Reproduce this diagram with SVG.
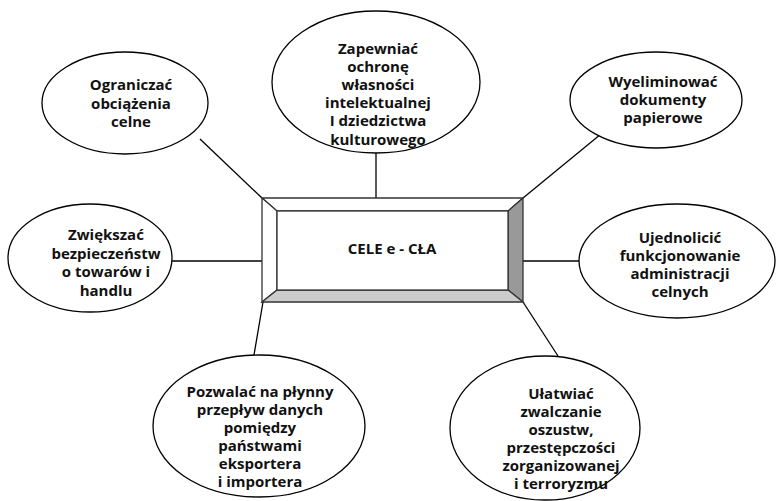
<svg xmlns="http://www.w3.org/2000/svg" width="777" height="501" viewBox="0 0 777 501">
<style>
.el{fill:#fff;stroke:#000;stroke-width:1.3}
.ln{stroke:#000;stroke-width:1.3;fill:none}
.t{font-family:"Open Sans",Lato,sans-serif;font-weight:700;font-size:15px;text-anchor:middle;fill:#111}
.bv{stroke:#333;stroke-width:1.3;stroke-linejoin:miter}
</style>
<rect width="777" height="501" fill="#fff"/>
<g id="connectors">
<line class="ln" x1="376" y1="152" x2="376" y2="198"/>
<line class="ln" x1="200" y1="139" x2="262" y2="198"/>
<line class="ln" x1="601" y1="134" x2="523" y2="198"/>
<line class="ln" x1="172" y1="261" x2="262" y2="261"/>
<line class="ln" x1="523" y1="261" x2="579" y2="261"/>
<line class="ln" x1="263" y1="302" x2="254" y2="355"/>
<line class="ln" x1="523" y1="302" x2="558" y2="356"/>
</g>
<g id="center">
<polygon class="bv" fill="#fff" points="262,198 523,198 508,211 277,211"/>
<polygon class="bv" fill="#fff" points="262,198 277,211 277,290 262,302"/>
<polygon class="bv" fill="#999" points="523,198 523,302 508,290 508,211"/>
<polygon class="bv" fill="#ccc" points="262,302 277,290 508,290 523,302"/>
<rect class="bv" fill="#fff" x="277" y="211" width="231" height="79"/>
<text class="t" x="392" y="254" font-size="16.5">CELE e - CŁA</text>
</g>
<g id="n-top">
<ellipse class="el" cx="376" cy="82" rx="104" ry="71"/>
<text class="t" x="378" y="53.5">Zapewniać</text>
<text class="t" x="378" y="71.7">ochronę</text>
<text class="t" x="378" y="89.9">własności</text>
<text class="t" x="378" y="108.1">intelektualnej</text>
<text class="t" x="378" y="126.3">I dziedzictwa</text>
<text class="t" x="378" y="144.5">kulturowego</text>
</g>
<g id="n-topleft">
<ellipse class="el" cx="125" cy="103" rx="83" ry="51"/>
<text class="t" x="131" y="90">Ograniczać</text>
<text class="t" x="131" y="108.5">obciążenia</text>
<text class="t" x="131" y="127">celne</text>
</g>
<g id="n-topright">
<ellipse class="el" cx="656" cy="100" rx="86" ry="48"/>
<text class="t" x="663" y="87">Wyeliminować</text>
<text class="t" x="663" y="105">dokumenty</text>
<text class="t" x="663" y="123">papierowe</text>
</g>
<g id="n-left">
<ellipse class="el" cx="90" cy="258" rx="82" ry="54"/>
<text class="t" x="106" y="240">Zwiększać</text>
<text class="t" x="106" y="258.5">bezpieczeństw</text>
<text class="t" x="106" y="277">o towarów i</text>
<text class="t" x="106" y="295.5">handlu</text>
</g>
<g id="n-right">
<ellipse class="el" cx="677" cy="261" rx="98" ry="57"/>
<text class="t" x="680" y="243">Ujednolicić</text>
<text class="t" x="680" y="261">funkcjonowanie</text>
<text class="t" x="680" y="279">administracji</text>
<text class="t" x="680" y="297">celnych</text>
</g>
<g id="n-bottomleft">
<ellipse class="el" cx="259" cy="426" rx="106" ry="71"/>
<text class="t" x="260" y="397">Pozwalać na płynny</text>
<text class="t" x="260" y="415">przepływ danych</text>
<text class="t" x="260" y="433">pomiędzy</text>
<text class="t" x="260" y="451">państwami</text>
<text class="t" x="260" y="469">eksportera</text>
<text class="t" x="260" y="487">i importera</text>
</g>
<g id="n-bottomright">
<ellipse class="el" cx="545" cy="428" rx="95" ry="72"/>
<text class="t" x="561" y="399">Ułatwiać</text>
<text class="t" x="561" y="417">zwalczanie</text>
<text class="t" x="561" y="435">oszustw,</text>
<text class="t" x="561" y="453">przestępczości</text>
<text class="t" x="561" y="471">zorganizowanej</text>
<text class="t" x="561" y="489">i terroryzmu</text>
</g>
</svg>
